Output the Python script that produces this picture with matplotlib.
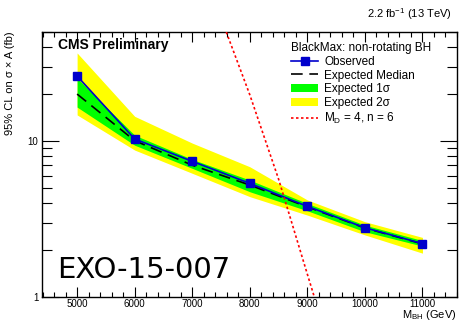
import matplotlib
matplotlib.use("Agg")
import matplotlib.pyplot as plt
from matplotlib.lines import Line2D
from matplotlib.patches import Patch
from matplotlib.ticker import MultipleLocator, LogLocator, NullFormatter, FixedLocator

plt.rcParams['font.family'] = ['Liberation Sans', 'DejaVu Sans']

mass = [5000, 6000, 7000, 8000, 9000, 10000, 11000]
observed = [26.1, 10.3, 7.41, 5.35, 3.81, 2.78, 2.20]
expected = [20.0, 10.05, 7.0, 5.22, 3.78, 2.77, 2.19]
exp_1s_lo = [16.5, 9.4, 6.68, 4.73, 3.57, 2.62, 2.12]
exp_1s_hi = [25.3, 10.9, 7.63, 5.62, 3.98, 2.89, 2.30]
exp_2s_lo = [14.7, 8.75, 6.21, 4.40, 3.35, 2.50, 1.91]
exp_2s_hi = [36.7, 14.4, 9.7, 6.84, 4.19, 3.04, 2.41]
theory_mass = [7500, 8000, 8500, 9000, 9500]
theory_xsec = [61.5, 19.8, 5.7, 1.40, 0.35]

W, H = 460, 321
fig = plt.figure(figsize=(4.6, 3.21), dpi=100)
ax = fig.add_axes([42/W, 24/H, 415/W, 265/H])

ax.fill_between(mass, exp_2s_lo, exp_2s_hi, color='#ffff00', lw=0, zorder=1)
ax.fill_between(mass, exp_1s_lo, exp_1s_hi, color='#00ff00', lw=0, zorder=2)
ax.plot(mass, expected, color='black', ls=(0, (7, 4)), lw=1.2, zorder=3)
ax.plot(mass, observed, color='#0000cc', lw=1.2, marker='s', ms=6, zorder=4)
ax.plot(theory_mass, theory_xsec, color='red', ls=(0, (1.5, 1.5)), lw=1.2, zorder=5)

ax.set_yscale('log')
ax.set_xlim(4390, 11600)
ax.set_ylim(1, 50)

ax.xaxis.set_major_locator(MultipleLocator(1000))
ax.xaxis.set_minor_locator(MultipleLocator(200))
ax.yaxis.set_major_locator(FixedLocator([1, 10]))
ax.yaxis.set_major_formatter(matplotlib.ticker.FuncFormatter(lambda v, p: f"{int(v)}"))
ax.yaxis.set_minor_locator(LogLocator(base=10, subs=range(2, 10)))
ax.yaxis.set_minor_formatter(NullFormatter())
ax.tick_params(which='both', direction='in', top=True, right=True, labelsize=7, width=0.8, pad=2.5)
ax.tick_params(axis='x', which='both', pad=1.5)
ax.tick_params(which='major', length=7)
ax.tick_params(which='minor', length=3.5)
ax.tick_params(axis='y', which='minor', length=7)
ax.tick_params(axis='y', which='major', length=12)
for s in ax.spines.values():
    s.set_linewidth(1.0)

fig.text(10/W, 1 - 31/H, '95% CL on σ × A (fb)', fontsize=8, rotation=90, ha='center', va='top')
fig.text(457/W, 1 - 315/H, 'M$_{\\mathregular{BH}}$ (GeV)', fontsize=8, ha='right', va='center')

fig.text(452/W, 1 - 14/H, '2.2 fb$^{\\mathregular{-1}}$ (13 TeV)', fontsize=8, ha='right', va='center')
fig.text(58/W, 1 - 45/H, 'CMS Preliminary', fontsize=10, fontweight='bold', va='center')
fig.text(57/W, 1 - 270/H, 'EXO-15-007', fontsize=21, family='DejaVu Sans', va='center', ha='left')

handles = [
    Line2D([], [], color='#0000cc', lw=1.2, marker='s', ms=6),
    Line2D([], [], color='black', ls=(0, (7, 4)), lw=1.2),
    Patch(color='#00ff00', lw=0),
    Patch(color='#ffff00', lw=0),
    Line2D([], [], color='red', ls=(0, (1.5, 1.5)), lw=1.2),
]
labels = ['Observed', 'Expected Median', 'Expected 1σ', 'Expected 2σ', 'M$_{\\mathregular{D}}$ = 4, n = 6']
leg = fig.legend(handles, labels, title='BlackMax: non-rotating BH', loc='upper left',
                 bbox_to_anchor=(291/W, 1 - 42/H), bbox_transform=fig.transFigure,
                 frameon=False, fontsize=8.5, title_fontsize=8.5, labelspacing=0.15,
                 handlelength=2.3, handletextpad=0.5, borderaxespad=0.0, borderpad=0.0)
leg._legend_box.align = 'left'

fig.savefig('out.png', dpi=100)
